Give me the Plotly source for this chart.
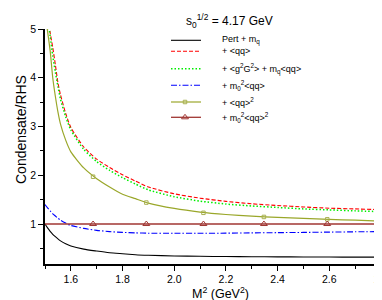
import plotly.graph_objects as go

# ---------------- data ----------------
M2 = [1.50, 1.51, 1.52, 1.53, 1.54, 1.55, 1.56, 1.58, 1.60, 1.65, 1.70, 1.75,
      1.80, 1.85, 1.90, 2.00, 2.10, 2.20, 2.30, 2.40, 2.50, 2.60, 2.70, 2.80]

pert = [1.00, 0.92, 0.85, 0.79, 0.74, 0.695, 0.655, 0.595, 0.55, 0.485, 0.445, 0.41,
        0.39, 0.37, 0.358, 0.345, 0.338, 0.333, 0.33, 0.327, 0.325, 0.323, 0.321, 0.32]

qq = [5.70, 5.35, 4.92, 4.62, 4.27, 3.90, 3.65, 3.27, 2.98, 2.58, 2.33, 2.16,
      2.01, 1.88, 1.76, 1.62, 1.53, 1.465, 1.415, 1.38, 1.35, 1.325, 1.31, 1.295]

g2G2 = [5.60, 5.25, 4.85, 4.45, 4.12, 3.82, 3.56, 3.20, 2.93, 2.53, 2.28, 2.10,
        1.95, 1.82, 1.70, 1.56, 1.47, 1.41, 1.37, 1.34, 1.31, 1.29, 1.27, 1.255]

m0qq = [1.40, 1.33, 1.27, 1.21, 1.165, 1.12, 1.08, 1.02, 0.97, 0.91, 0.87, 0.845,
        0.828, 0.818, 0.812, 0.81, 0.81, 0.813, 0.818, 0.823, 0.828, 0.834, 0.84, 0.845]

qq2 = [5.35, 4.95, 4.55, 4.00, 3.62, 3.30, 3.05, 2.72, 2.48, 2.15, 1.93, 1.76,
       1.61, 1.52, 1.43, 1.32, 1.245, 1.195, 1.16, 1.135, 1.115, 1.095, 1.078, 1.06]

m0qq2 = [1.0, 1.0, 1.0, 1.0, 1.0, 1.0, 1.0, 1.0, 1.0, 1.0, 1.0, 1.0,
         1.0, 1.0, 1.0, 1.0, 1.0, 1.0, 1.0, 1.0, 1.0, 1.0, 1.0, 1.0]

mark_M2 = [1.686, 1.892, 2.113, 2.347, 2.592]
qq2_marks = [1.97, 1.44, 1.23, 1.145, 1.096]
m0qq2_marks = [1.0, 1.0, 1.0, 1.0, 1.0]

legend_labels = [
    "Pert + m<sub>q</sub>",
    "+ &lt;qq&gt;",
    "+ &lt;g<sup>2</sup>G<sup>2</sup>&gt; + m<sub>q</sub>&lt;qq&gt;",
    "+ m<sub>0</sub><sup>2</sup>&lt;qq&gt;",
    "+ &lt;qq&gt;<sup>2</sup>",
    "+ m<sub>0</sub><sup>2</sup>&lt;qq&gt;<sup>2</sup>",
]
title_text = "s<sub>0</sub><sup>1/2</sup> = 4.17 GeV"
x_title = "M<sup>2</sup> (GeV<sup>2</sup>)"
y_title = "Condensate/RHS"

# ---------------- styles ----------------
OLIVE = "#9AA72A"
WINE = "#A03632"
styles = [
    dict(color="black", width=1.1, dash="solid"),
    dict(color="#FF0000", width=1.1, dash="4px,2px"),
    dict(color="#00EE00", width=1.5, dash="1.5px,2px"),
    dict(color="#0000FF", width=1.1, dash="6px,2px,1.5px,2px"),
    dict(color=OLIVE, width=1.2, dash="solid"),
    dict(color=WINE, width=1.3, dash="solid"),
]
series = [pert, qq, g2G2, m0qq, qq2, m0qq2]

fig = go.Figure()
for ys, st in zip(series, styles):
    fig.add_trace(go.Scatter(x=M2, y=ys, mode="lines", line=dict(**st, shape="spline", smoothing=0.6),
                             showlegend=False, hoverinfo="skip"))

SQ = dict(symbol="square-open", size=3.5, color="#A8B050", line=dict(width=1))
TRI = dict(symbol="triangle-up-open", size=6, color=WINE, line=dict(width=1))
fig.add_trace(go.Scatter(x=mark_M2, y=qq2_marks, mode="markers", marker=SQ,
                         showlegend=False, hoverinfo="skip"))
fig.add_trace(go.Scatter(x=mark_M2, y=m0qq2_marks, mode="markers", marker=TRI,
                         showlegend=False, hoverinfo="skip"))

# ---------------- hand-made legend on a pixel overlay axis ----------------
PL, PR, PT, PB = 37.0, 373.0, 21.0, 256.0
leg_rows = [32.3, 43.3, 60.7, 77.3, 94.0, 109.3]
leg_x0, leg_x1, leg_mid, leg_text = 163, 193, 177, 212
for i, (yy, st) in enumerate(zip(leg_rows, styles)):
    fig.add_trace(go.Scatter(x=[leg_x0, leg_x1], y=[yy, yy], mode="lines", line=st,
                             xaxis="x2", yaxis="y2", showlegend=False, hoverinfo="skip"))
fig.add_trace(go.Scatter(x=[leg_mid], y=[leg_rows[4]], mode="markers", marker=SQ,
                         xaxis="x2", yaxis="y2", showlegend=False, hoverinfo="skip"))
fig.add_trace(go.Scatter(x=[leg_mid], y=[leg_rows[5]], mode="markers", marker=TRI,
                         xaxis="x2", yaxis="y2", showlegend=False, hoverinfo="skip"))

FONT = "Liberation Sans, Arial, sans-serif"
W, H = PR - PL, PB - PT


def px_to_paper(px, py):
    return (px - PL) / W, (PB - py) / H


annotations = []
for yy, lab in zip(leg_rows, legend_labels):
    annotations.append(dict(x=leg_text, y=yy, xref="x2", yref="y2", text=lab, showarrow=False,
                            xanchor="left", yanchor="middle", font=dict(size=9, color="black", family=FONT)))
tx, ty = px_to_paper(176, 13)
annotations.append(dict(x=tx, y=ty, xref="paper", yref="paper", text=title_text, showarrow=False,
                        xanchor="left", yanchor="middle", font=dict(size=12, color="black", family=FONT)))
tx, ty = px_to_paper(212, 285)
annotations.append(dict(x=tx, y=ty, xref="paper", yref="paper", text=x_title, showarrow=False,
                        xanchor="center", yanchor="middle", font=dict(size=12.5, color="black", family=FONT)))
tx, ty = px_to_paper(13, 122)
annotations.append(dict(x=tx, y=ty, xref="paper", yref="paper", text=y_title, showarrow=False, textangle=-90,
                        xanchor="center", yanchor="middle", font=dict(size=14, color="black", family=FONT)))

axis_common = dict(showline=True, linecolor="black", linewidth=1.5, ticks="outside", ticklen=5,
                   tickwidth=1, tickcolor="black", showgrid=False, zeroline=False,
                   tickfont=dict(size=10.5, color="black", family=FONT), automargin=False)

fig.update_layout(
    width=382, height=300,
    margin=dict(l=37, r=9, t=21, b=44),
    paper_bgcolor="white", plot_bgcolor="white",
    showlegend=False,
    xaxis=dict(range=[1.5, 2.8], tick0=1.6, dtick=0.2, tickformat=".1f",
               minor=dict(dtick=0.1, tick0=1.5, ticklen=3, ticks="outside", tickcolor="black"),
               **axis_common),
    yaxis=dict(range=[0.18, 5], tickvals=[1, 2, 3, 4, 5],
               minor=dict(dtick=0.5, tick0=0, ticklen=3, ticks="outside", tickcolor="black"),
               **axis_common),
    xaxis2=dict(overlaying="x", anchor="y2", range=[PL, PR], visible=False, fixedrange=True),
    yaxis2=dict(overlaying="y", anchor="x2", range=[PB, PT], visible=False, fixedrange=True),
    annotations=annotations,
)

fig.write_html("out.html")
